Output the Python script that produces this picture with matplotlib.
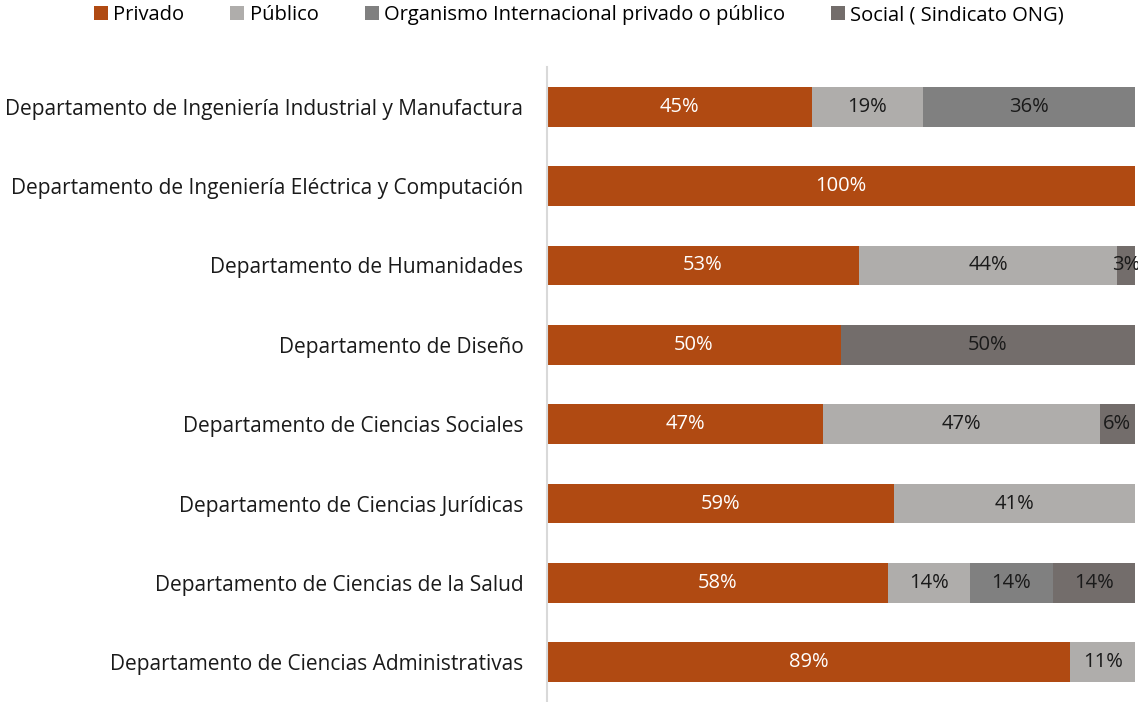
import matplotlib
matplotlib.use("Agg")
import matplotlib.pyplot as plt
import numpy as np
from matplotlib.patches import Patch

plt.rcParams['font.family'] = ['Open Sans', 'DejaVu Sans']

categories = [
    "Departamento de Ingeniería Industrial y Manufactura",
    "Departamento de Ingeniería Eléctrica y Computación",
    "Departamento de Humanidades",
    "Departamento de Diseño",
    "Departamento de Ciencias Sociales",
    "Departamento de Ciencias Jurídicas",
    "Departamento de Ciencias de la Salud",
    "Departamento de Ciencias Administrativas",
]
series_names = ["Privado", "Público", "Organismo Internacional privado o público", "Social ( Sindicato ONG)"]
privado = [45, 100, 53, 50, 47, 59, 58, 89]
publico = [19, 0, 44, 0, 47, 41, 14, 11]
organismo = [36, 0, 0, 0, 0, 0, 14, 0]
social = [0, 0, 3, 50, 6, 0, 14, 0]
colors = ["#B04A12", "#AFADAB", "#808080", "#736D6B"]
text_colors = ["white", "#1a1a1a", "#1a1a1a", "#1a1a1a"]

fig = plt.figure(figsize=(11.38, 7.02), dpi=100)
ax = fig.add_axes([547/1138, 0.0, (1135-547)/1138, (702-67)/702])

y = np.arange(len(categories))
left = np.zeros(len(categories))
for vals, col, tc in zip([privado, publico, organismo, social], colors, text_colors):
    vals = np.array(vals, dtype=float)
    ax.barh(y, vals, left=left, height=0.5, color=col, edgecolor='none')
    for yi, (l, v) in enumerate(zip(left, vals)):
        if v > 0:
            ax.text(l + v / 2, yi, f"{int(v)}%", ha='center', va='center',
                    color=tc, fontsize=14.5, clip_on=False)
    left += vals

ax.set_xlim(0, 100)
ax.set_ylim(len(categories) - 0.5, -0.5)
ax.set_yticks(y)
ax.set_yticklabels(categories, fontsize=15, color="#1a1a1a")
ax.tick_params(axis='y', length=0, pad=17)
ax.set_xticks([])
for s in ['top', 'right', 'bottom']:
    ax.spines[s].set_visible(False)
ax.spines['left'].set_color('#D9D9D9')
ax.spines['left'].set_linewidth(1.5)

handles = [Patch(facecolor=c, edgecolor='none') for c in colors]
fig.legend(handles, series_names, loc='center', bbox_to_anchor=(579/1138, 1 - 15/702),
           ncol=4, frameon=False, fontsize=14.5, handlelength=0.7, handleheight=0.7,
           handletextpad=0.25, columnspacing=2.3)

fig.savefig("out.png", dpi=100)
